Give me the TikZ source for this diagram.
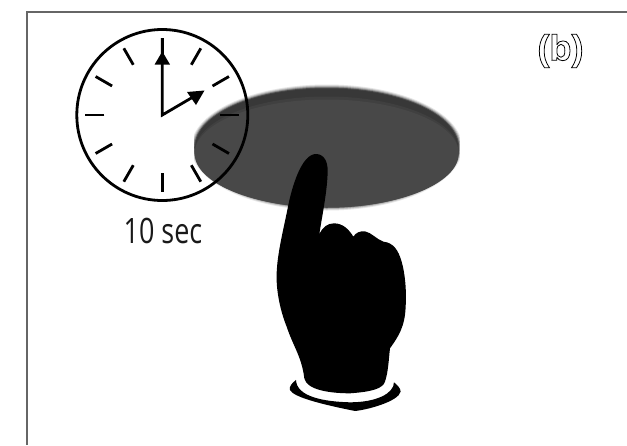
\documentclass[tikz,border=0pt]{standalone}
\usepackage{fontspec}
\usetikzlibrary{calc}
\setmainfont{Liberation Sans}
\newfontfamily\labfont{Open Sans}[FakeStretch=0.77]
\newfontfamily\outfont{Liberation Sans Bold}[FakeBold=2.2]
\definecolor{plate}{HTML}{484848}
\definecolor{plateband}{HTML}{383838}
\definecolor{platemid}{HTML}{404040}
\tikzset{
 frameline/.style={draw=black!60,line width=1.4pt},
 tick/.style={line width=2.8pt,black},
 hand/.style={line width=2.8pt,black},
 tip/.style={fill=black,draw=none},
}
\begin{document}
\begin{tikzpicture}[x=1pt,y=-1pt]
\useasboundingbox (0,0) rectangle (627,445);
\fill[white] (0,0) rectangle (627,445);
\draw[frameline] (27,445) -- (27,12) -- (627,12);
% plate
\begin{scope}
\clip (194,84) rectangle (459.5,210);
\foreach \d/\c in {3/10,2/25,1/45,0/70}{
 \fill[black!\c] (326.7,147.5) ellipse ({132.5+\d} and {60+\d});}
\fill[plateband] (326.7,147.5) ellipse (131.5 and 59);
\fill[platemid] (326.7,152) ellipse (132 and 55.5);
\fill[plate] (326.7,153.5) ellipse (132 and 54);
\end{scope}
% clock
\coordinate (c) at (162.3,115);
\draw[line width=2.8pt] (c) circle (85.5);
\foreach \a in {30,60,...,360}{\draw[tick] ($(c)+(\a:58)$) -- ($(c)+(\a:77)$);}
\draw[hand,line join=miter] (162.3,38) -- (c) -- (193,97);
\fill[tip] (162.3,51.5) -- (170,64.5) -- (154.6,64.5) -- cycle;
\fill[tip] (204.5,90.5) -- (196,105) -- (187,92) -- cycle;
\node[inner sep=0pt,font={\labfont\fontsize{35}{35}\selectfont},text=black!90] at (163,231) {10 sec};
\node[inner sep=0pt,font={\outfont\fontsize{36}{36}\selectfont}] at (560.5,51) {\special{pdf:code 1 1 1 rg}(b)};
% hand
\begin{scope}[shift={(190,140)},x=0.3333pt,y=-0.3333pt]
\fill[black] (378,42) .. controls (402,42) and (414,65) .. (413,95)
 .. controls (412,150) and (398,220) .. (388,282)
 .. controls (398,262) and (412,250) .. (432,250)
 .. controls (460,250) and (478,270) .. (490,290)
 .. controls (497,278) and (512,272) .. (525,274)
 .. controls (545,278) and (560,298) .. (580,305)
 .. controls (610,308) and (625,330) .. (635,365)
 .. controls (645,400) and (650,450) .. (647,500)
 .. controls (645,560) and (625,590) .. (600,625)
 .. controls (596,660) and (595,695) .. (585,725)
 .. controls (578,745) and (550,755) .. (480,760)
 .. controls (420,760) and (350,750) .. (343,715)
 .. controls (335,650) and (310,620) .. (290,560)
 .. controls (270,510) and (258,450) .. (260,400)
 .. controls (262,340) and (280,270) .. (292,210)
 .. controls (305,140) and (335,42) .. (378,42) -- cycle;
\fill[black] (318,720) .. controls (305,730) and (297,740) .. (300,750)
 .. controls (310,770) and (380,790) .. (495,813)
 .. controls (530,810) and (625,785) .. (632,755)
 .. controls (632,745) and (622,735) .. (612,727)
 .. controls (612,760) and (560,787) .. (480,787)
 .. controls (400,785) and (320,770) .. (318,720) -- cycle;
\end{scope}
\end{tikzpicture}
\end{document}
